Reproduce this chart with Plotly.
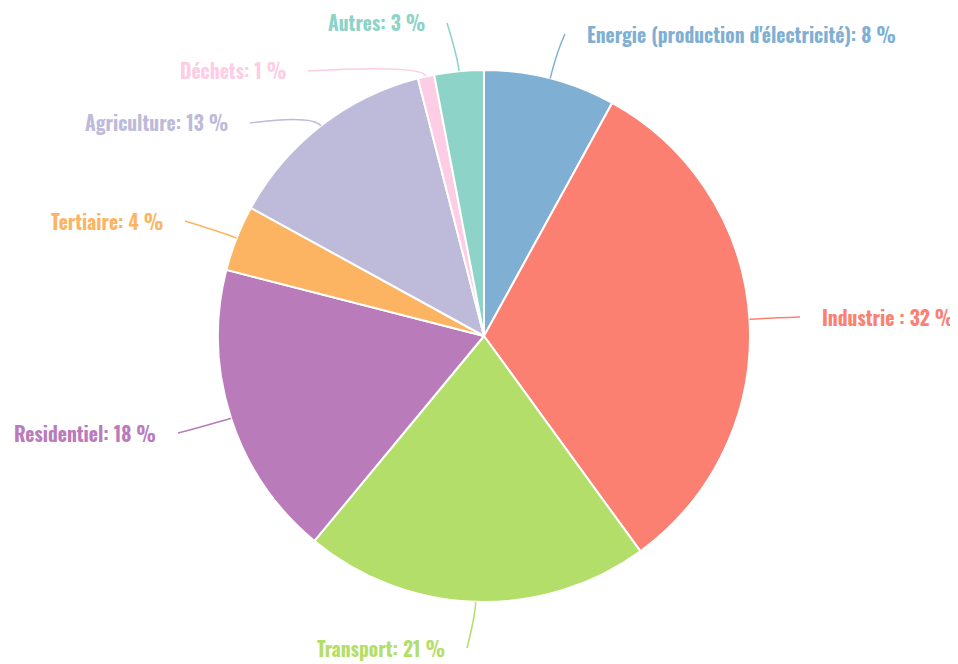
import math
import plotly.graph_objects as go

# data
labels = ["Energie (production d'électricité)", "Industrie ", "Transport", "Residentiel",
          "Tertiaire", "Agriculture", "Déchets", "Autres"]
values = [8, 32, 21, 18, 4, 13, 1, 3]
colors = ["#7FB0D4", "#FB8072", "#B3DE69", "#BA7BBB", "#FDB462", "#BEBADA", "#FCCDE5", "#8DD3C7"]

# layout (pixels of the window)
W, H = 958, 664
OFF = 8  # page body margin
CX, CY, R = 484, 336, 266
# end of each leader line (the text sits 20px further out)
label_pts = [(565, 34), (800, 317), (467, 648), (178, 433),
             (185, 221), (250, 123), (308, 71), (447, 23)]
# how far past the rim each leader line bends
bend = [30, 14, 14, 14, 14, 14, 12, 14]
FONT = "Oswald, 'Liberation Sans Narrow', 'DejaVu Sans Condensed', sans-serif"


def px(x):
    return (x - OFF) / W


def py(y):
    return 1 - (y - OFF) / H


fig = go.Figure(go.Pie(
    labels=labels,
    values=values,
    sort=False,
    direction="clockwise",
    rotation=0,
    marker=dict(colors=colors, line=dict(color="white", width=2)),
    textinfo="none",
    hoverinfo="label+percent",
    showlegend=False,
    domain=dict(x=[px(CX - R), px(CX + R)], y=[py(CY + R), py(CY - R)]),
))

# labels + curved leader lines
total = sum(values)
cum = 0
shapes, annotations = [], []
for lab, v, col, (lx, ly), b in zip(labels, values, colors, label_pts, bend):
    mid = (cum + v / 2) / total * 2 * math.pi
    cum += v
    sx, sy = CX + R * math.sin(mid), CY - R * math.cos(mid)
    qx, qy = CX + (R + b) * math.sin(mid), CY - (R + b) * math.cos(mid)
    shapes.append(dict(
        type="path", xref="paper", yref="paper",
        path=f"M {px(sx)},{py(sy)} Q {px(qx)},{py(qy)} {px(lx)},{py(ly)}",
        line=dict(color=col, width=1.5),
    ))
    right = lx > CX + 20
    annotations.append(dict(
        x=px(lx), y=py(ly), xref="paper", yref="paper",
        text=f"<b>{lab}: {v} %</b>", showarrow=False,
        xanchor="left" if right else "right", yanchor="middle",
        xshift=20 if right else -20,
        font=dict(family=FONT, size=19.5, color=col),
    ))

fig.update_layout(
    width=W, height=H,
    margin=dict(l=0, r=0, t=0, b=0),
    paper_bgcolor="white",
    plot_bgcolor="white",
    shapes=shapes,
    annotations=annotations,
)

fig.write_html("out.html")
